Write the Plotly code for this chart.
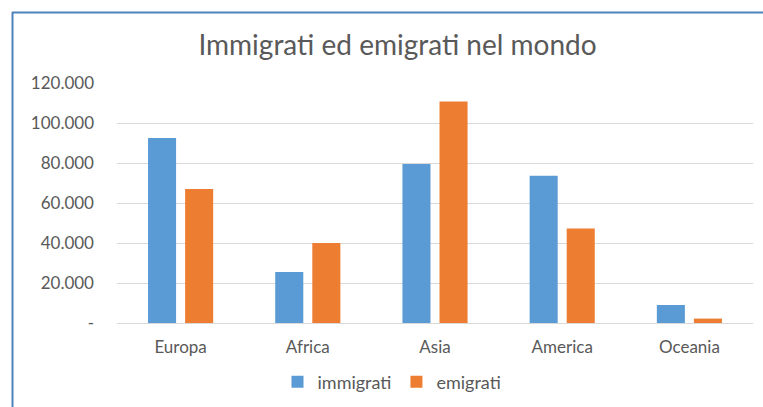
import plotly.graph_objects as go

# Continents and migrant counts per series
continenti = ["Europa", "Africa", "Asia", "America", "Oceania"]
immigrati = [92500, 25500, 79500, 73600, 9000]
emigrati = [67000, 40000, 110700, 47300, 2200]

# Y axis ticks with Italian thousands separator, zero shown as a dash
tick_vals = [0, 20000, 40000, 60000, 80000, 100000, 120000]
tick_text = ["-", "20.000", "40.000", "60.000", "80.000", "100.000", "120.000"]

W, H = 763, 407
L, R, T, B = 117, 10, 83, 84

fig = go.Figure()
fig.add_trace(go.Bar(name="immigrati", x=continenti, y=immigrati,
                     marker=dict(color="#5B9BD5", line=dict(width=0))))
fig.add_trace(go.Bar(name="emigrati", x=continenti, y=emigrati,
                     marker=dict(color="#ED7D31", line=dict(width=0))))

# Outer frame (top and left edges) around the chart
pw, ph = W - L - R, H - T - B
def px_x(px):
    return (px - L) / pw
def px_y(py):
    return (H - B - py) / ph

frame = dict(type="line", xref="paper", yref="paper",
             line=dict(color="#4F81BD", width=2))
fig.add_shape(**frame, x0=px_x(12), x1=px_x(770), y0=px_y(12.5), y1=px_y(12.5))
fig.add_shape(**frame, x0=px_x(12.5), x1=px_x(12.5), y0=px_y(12), y1=px_y(420))

fig.update_layout(
    width=W, height=H,
    margin=dict(l=L, r=R, t=T, b=B, autoexpand=False),
    paper_bgcolor="white", plot_bgcolor="white",
    font=dict(family="Lato, Open Sans, sans-serif", color="#595959", size=17),
    title=dict(text="Immigrati ed emigrati nel mondo", x=0.521, xanchor="center",
               y=1 - 45 / H, yanchor="middle",
               font=dict(size=28, color="#595959")),
    barmode="group", bargap=0.417, bargroupgap=0.243,
    showlegend=True,
    legend=dict(orientation="h", x=px_x(392), xanchor="center",
                y=px_y(382), yanchor="middle",
                font=dict(size=18, color="#595959"), itemwidth=30,
                traceorder="normal"),
    xaxis=dict(showgrid=False, showline=True, linecolor="#D9D9D9", linewidth=1,
               ticks="", ticklabelstandoff=9, automargin=False,
               tickfont=dict(size=17, color="#595959")),
    yaxis=dict(range=[0, 120000], tickvals=tick_vals, ticktext=tick_text,
               showgrid=True, gridcolor="#D9D9D9", gridwidth=1,
               zeroline=False, showline=False, ticks="", automargin=False,
               ticklabelstandoff=22,
               tickfont=dict(size=17, color="#595959")),
)

fig.write_html("out.html")
